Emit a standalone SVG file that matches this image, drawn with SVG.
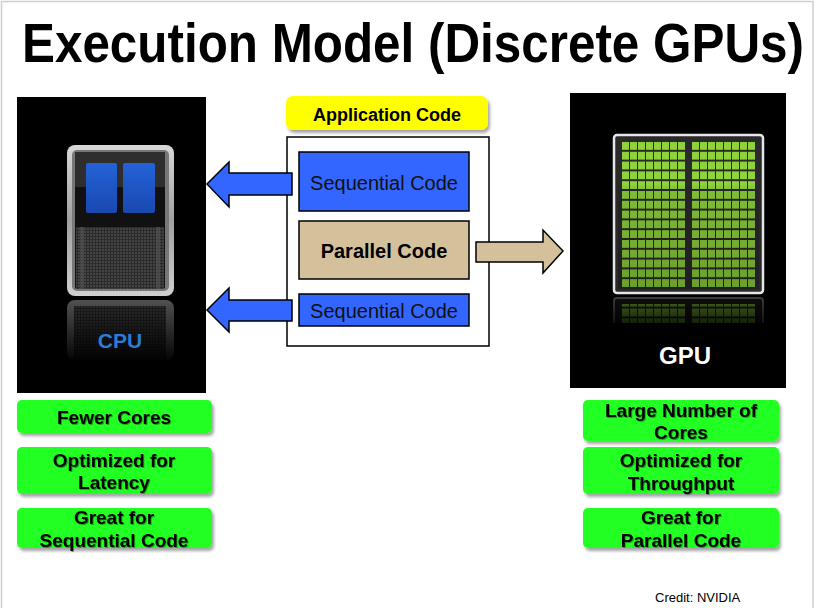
<svg xmlns="http://www.w3.org/2000/svg" width="815" height="608" viewBox="0 0 815 608">
<defs>
<style>
.t{font-family:"Liberation Sans",Arial,sans-serif;}
.b{font-weight:bold;}
.feat{fill:#22ff22;filter:url(#sh);}
.ft{font-family:"Liberation Sans",Arial,sans-serif;font-weight:bold;font-size:19px;fill:#000;text-anchor:middle;filter:url(#tsh);}
.code{stroke:#000;stroke-width:1.5;}
.arrowL{fill:#3366ff;stroke:#000;stroke-width:1.5;}
.arrowR{fill:#d4c19c;stroke:#000;stroke-width:1.5;}
</style>
<filter id="sh" x="-10%" y="-20%" width="130%" height="160%">
<feDropShadow dx="2" dy="3" stdDeviation="1.5" flood-color="#000" flood-opacity="0.35"/>
</filter>
<filter id="tsh" x="-10%" y="-20%" width="130%" height="160%">
<feDropShadow dx="1" dy="1" stdDeviation="0.6" flood-color="#000" flood-opacity="0.35"/>
</filter>
<linearGradient id="bezel" x1="0" y1="0" x2="0" y2="1">
<stop offset="0" stop-color="#d8d8d8"/>
<stop offset="0.5" stop-color="#a0a0a0"/>
<stop offset="1" stop-color="#cfcfcf"/>
</linearGradient>
<linearGradient id="blueSq" x1="0" y1="0" x2="0" y2="1">
<stop offset="0" stop-color="#2462d8"/>
<stop offset="1" stop-color="#1a48b0"/>
</linearGradient>
<linearGradient id="fadeCpu" x1="0" y1="0" x2="0" y2="1">
<stop offset="0" stop-color="#000" stop-opacity="0.3"/>
<stop offset="1" stop-color="#000" stop-opacity="1"/>
</linearGradient>
<linearGradient id="gpuShade" x1="0" y1="0" x2="0" y2="1">
<stop offset="0" stop-color="#000" stop-opacity="0"/>
<stop offset="0.3" stop-color="#000" stop-opacity="0"/>
<stop offset="0.34" stop-color="#000" stop-opacity="0.1"/>
<stop offset="1" stop-color="#000" stop-opacity="0.25"/>
</linearGradient>
<linearGradient id="gpuRefl" x1="0" y1="0" x2="0" y2="1">
<stop offset="0" stop-color="#000" stop-opacity="0.5"/>
<stop offset="1" stop-color="#000" stop-opacity="0.9"/>
</linearGradient>
<pattern id="cells" x="621" y="141" width="8" height="9.8" patternUnits="userSpaceOnUse">
<rect width="8" height="9.8" fill="#2a2a2a"/>
<rect x="1" y="1" width="7" height="7.8" fill="#8fd23c"/>
</pattern>
<pattern id="cellsR" x="691" y="141" width="8" height="9.8" patternUnits="userSpaceOnUse">
<rect width="8" height="9.8" fill="#2a2a2a"/>
<rect x="1" y="1" width="7" height="7.8" fill="#8fd23c"/>
</pattern>
<pattern id="mesh" x="0" y="0" width="3" height="3" patternUnits="userSpaceOnUse">
<rect width="3" height="3" fill="#2c2c2c"/>
<rect width="2" height="2" fill="#444"/>
</pattern>
</defs>

<rect x="1.5" y="1.5" width="811.5" height="620" fill="#fff" stroke="#cfcfcf" stroke-width="1.5"/>

<text class="t b" transform="translate(22,62) scale(0.882,1)" x="0" y="0" font-size="56">Execution Model (Discrete GPUs)</text>

<g id="cpu">
<rect x="17" y="97" width="189" height="296" fill="#000"/>
<rect x="67" y="145" width="107" height="151" rx="8" fill="url(#bezel)"/>
<rect x="72" y="150" width="97" height="141" rx="5" fill="#777"/>
<rect x="75" y="152" width="90" height="137" rx="2" fill="#111"/>
<rect x="75" y="152" width="90" height="35" fill="#2e2e2e"/>
<rect x="76" y="227" width="88" height="62" fill="url(#mesh)"/>
<rect x="80" y="227" width="4" height="62" fill="#555" opacity="0.6"/>
<rect x="156" y="227" width="4" height="62" fill="#555" opacity="0.6"/>
<rect x="86" y="163" width="31" height="50" rx="2" fill="url(#blueSq)"/>
<rect x="123" y="163" width="32" height="50" rx="2" fill="url(#blueSq)"/>
<rect x="67" y="300" width="107" height="60" rx="8" fill="#777"/>
<rect x="74" y="306" width="92" height="54" fill="url(#mesh)"/>
<rect x="60" y="298" width="120" height="66" fill="url(#fadeCpu)"/>
<text class="t b" x="120" y="348" font-size="21" fill="#2f7bd4" text-anchor="middle">CPU</text>
</g>

<g id="gpu">
<rect x="570" y="93" width="216" height="295" fill="#000"/>
<rect x="614" y="135" width="149" height="158" rx="3" fill="#2a2a2a" stroke="#e6e6e6" stroke-width="2.5"/>
<rect x="621" y="141" width="64" height="147" fill="url(#cells)"/>
<rect x="691" y="141" width="64" height="147" fill="url(#cellsR)"/>
<rect x="618" y="139" width="141" height="150" fill="url(#gpuShade)"/>
<rect x="614" y="298" width="149" height="30" rx="3" fill="#1a1a1a" stroke="#777" stroke-width="2"/>
<rect x="621" y="304" width="64" height="20" fill="url(#cells)"/>
<rect x="691" y="304" width="64" height="20" fill="url(#cellsR)"/>
<rect x="610" y="297" width="156" height="30" fill="url(#gpuRefl)"/>
<rect x="570" y="323" width="216" height="65" fill="#000"/>
<text class="t b" x="685" y="364" font-size="24" fill="#fff" text-anchor="middle">GPU</text>
</g>

<g id="app-code">
<rect x="286" y="96" width="202" height="34" rx="7" fill="#ffff00" filter="url(#sh)"/>
<text class="t b" x="387" y="121" font-size="18" text-anchor="middle">Application Code</text>
<rect x="287" y="137" width="202" height="209" fill="#fff" stroke="#000" stroke-width="1.5"/>
</g>

<g id="seq-code-1">
<rect class="code" x="299" y="152" width="170" height="59" fill="#3366ff"/>
<text class="t" x="384" y="190" font-size="20" fill="#111" text-anchor="middle">Sequential Code</text>
</g>
<g id="parallel-code">
<rect class="code" x="299" y="221" width="170" height="58" fill="#d4c19c"/>
<text class="t b" x="384" y="258" font-size="20" fill="#000" text-anchor="middle">Parallel Code</text>
</g>
<g id="seq-code-2">
<rect class="code" x="299" y="294" width="170" height="32" fill="#3366ff"/>
<text class="t" x="384" y="318" font-size="20" fill="#111" text-anchor="middle">Sequential Code</text>
</g>

<g id="connectors">
<polygon class="arrowL" points="292,173 229,173 229,162 207,184 229,207 229,195 292,195"/>
<polygon class="arrowL" points="292,300 229,300 229,288 207,310 229,332 229,321 292,321"/>
<polygon class="arrowR" points="476,242 543,242 543,230 563,251 543,273 543,262 476,262"/>
</g>

<g id="cpu-fewer-cores">
<rect class="feat" x="17" y="400" width="195" height="33" rx="5"/>
<text class="ft" x="114" y="424">Fewer Cores</text>
</g>
<g id="cpu-latency">
<rect class="feat" x="17" y="447" width="195" height="47" rx="5"/>
<text class="ft" x="114" y="467">Optimized for</text>
<text class="ft" x="114" y="489">Latency</text>
</g>
<g id="cpu-sequential">
<rect class="feat" x="17" y="508" width="195" height="40" rx="5"/>
<text class="ft" x="114" y="524">Great for</text>
<text class="ft" x="114" y="547">Sequential Code</text>
</g>

<g id="gpu-many-cores">
<rect class="feat" x="583" y="400" width="196" height="41" rx="5"/>
<text class="ft" x="681" y="417">Large Number of</text>
<text class="ft" x="681" y="439">Cores</text>
</g>
<g id="gpu-throughput">
<rect class="feat" x="583" y="447" width="196" height="47" rx="5"/>
<text class="ft" x="681" y="467">Optimized for</text>
<text class="ft" x="681" y="490">Throughput</text>
</g>
<g id="gpu-parallel">
<rect class="feat" x="583" y="508" width="196" height="40" rx="5"/>
<text class="ft" x="681" y="524">Great for</text>
<text class="ft" x="681" y="547">Parallel Code</text>
</g>

<text class="t" x="655" y="602" font-size="13" fill="#000">Credit: NVIDIA</text>
</svg>
